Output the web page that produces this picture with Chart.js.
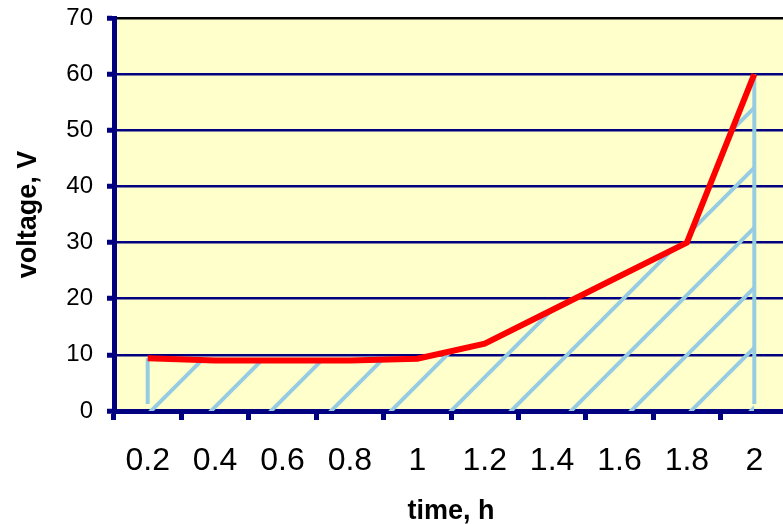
<!DOCTYPE html>
<html>
<head>
<meta charset="utf-8">
<script src="https://cdn.jsdelivr.net/npm/chart.js@4.4.0/dist/chart.umd.min.js"></script>
<style>
  html, body { margin: 0; padding: 0; background: #fff; overflow: hidden; }
  #wrap { width: 790px; height: 524px; }
</style>
</head>
<body>
<div id="wrap"><canvas id="voltChart" width="790" height="524"></canvas></div>
<script>
// data
const timeLabels = ['0.2', '0.4', '0.6', '0.8', '1', '1.2', '1.4', '1.6', '1.8', '2'];
const voltage = [9.4, 9, 9, 9, 9.3, 12, 18, 24, 30, 60];
const yMin = 0;
const yMax = 70;
const yStep = 10;

const NAVY = '#000080';
const HATCH = '#96CCE2';
const FONT = "'Liberation Sans', Arial, sans-serif";

// diagonal hatch like the excel pattern fill
function makeHatch() {
  const size = 60;
  const c = document.createElement('canvas');
  c.width = size;
  c.height = size;
  const g = c.getContext('2d');
  g.strokeStyle = HATCH;
  g.lineWidth = 4;
  [-38, 22, 82, 142].forEach(k => {
    g.beginPath();
    g.moveTo(k + 10, -10);
    g.lineTo(-10, k + 10);
    g.stroke();
  });
  return document.getElementById('voltChart').getContext('2d').createPattern(c, 'repeat');
}

// yellow plot background
const plotBackground = {
  id: 'plotBackground',
  beforeDraw(chart) {
    const { ctx, chartArea: a } = chart;
    ctx.save();
    ctx.fillStyle = '#FFFFCC';
    ctx.fillRect(a.left, a.top, a.right - a.left, a.bottom - a.top);
    ctx.restore();
  }
};

// the two upright edges of the hatched area
const hatchEdges = {
  id: 'hatchEdges',
  beforeDatasetsDraw(chart) {
    const pts = chart.getDatasetMeta(1).data;
    if (!pts.length) return;
    const { ctx } = chart;
    const base = chart.scales.y.getPixelForValue(0) - 7;
    ctx.save();
    ctx.strokeStyle = HATCH;
    ctx.lineWidth = 4;
    [pts[0], pts[pts.length - 1]].forEach(p => {
      ctx.beginPath();
      ctx.moveTo(p.x, base);
      ctx.lineTo(p.x, p.y);
      ctx.stroke();
    });
    ctx.restore();
  }
};

new Chart(document.getElementById('voltChart'), {
  type: 'line',
  data: {
    labels: timeLabels,
    datasets: [
      {
        label: 'voltage',
        data: voltage,
        borderColor: '#FF0000',
        borderWidth: 6,
        pointRadius: 0,
        tension: 0,
        fill: false
      },
      {
        label: 'area',
        data: voltage,
        borderWidth: 0,
        borderColor: 'rgba(0,0,0,0)',
        backgroundColor: makeHatch(),
        pointRadius: 0,
        tension: 0,
        fill: 'origin'
      }
    ]
  },
  options: {
    responsive: false,
    animation: false,
    devicePixelRatio: 1,
    layout: { padding: { top: 18, right: 2, left: 0, bottom: 0 } },
    plugins: {
      legend: { display: false },
      tooltip: { enabled: false }
    },
    scales: {
      x: {
        type: 'category',
        offset: true,
        grid: {
          offset: true,
          drawOnChartArea: false,
          drawTicks: true,
          tickLength: 9,
          tickWidth: 5,
          tickColor: NAVY
        },
        border: { color: NAVY, width: 5 },
        ticks: {
          color: '#000',
          font: { family: FONT, size: 32 },
          padding: 22,
          autoSkip: false,
          maxRotation: 0
        },
        title: {
          display: true,
          text: 'time, h',
          color: '#000',
          font: { family: FONT, size: 27, weight: 'bold', lineHeight: 0.9 },
          padding: { top: 0, bottom: 0 }
        },
        afterFit: s => { s.height = 113; s.paddingLeft = 0; s.paddingRight = 0; }
      },
      y: {
        min: yMin,
        max: yMax,
        ticks: {
          stepSize: yStep,
          color: '#000',
          font: { family: FONT, size: 24 },
          padding: 14
        },
        grid: {
          color: c => (c.tick && c.tick.value === yMax ? '#000' : NAVY),
          lineWidth: 2.5,
          tickLength: 7,
          tickWidth: 5,
          tickColor: NAVY
        },
        border: { color: NAVY, width: 5 },
        title: {
          display: true,
          text: 'voltage, V',
          color: '#000',
          font: { family: FONT, size: 27, weight: 'bold', lineHeight: 0.9 },
          padding: { top: 16, bottom: 0 }
        },
        afterFit: s => { s.width = 114; s.paddingTop = 0; s.paddingBottom = 0; }
      }
    }
  },
  plugins: [plotBackground, hatchEdges]
});
</script>
</body>
</html>
